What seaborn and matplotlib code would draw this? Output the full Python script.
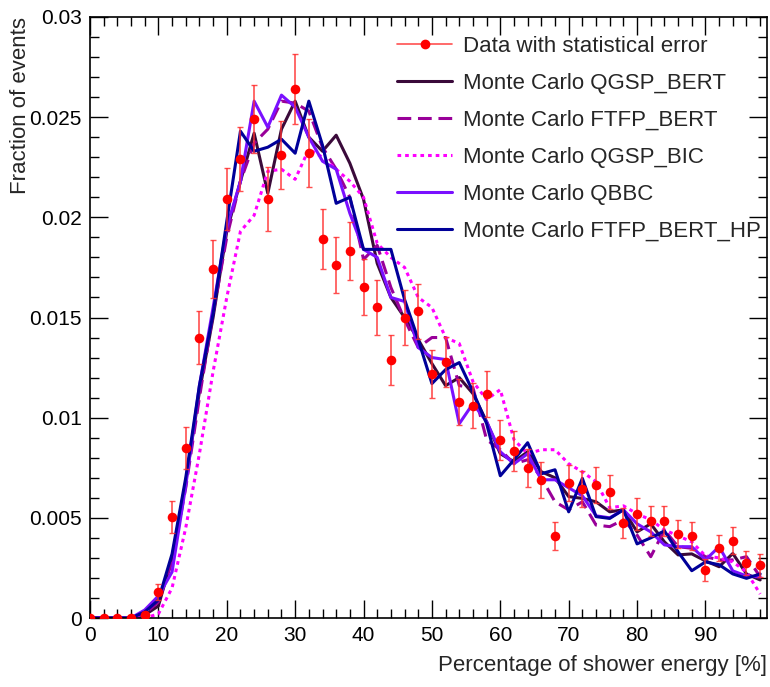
import numpy as np
import pandas as pd
import matplotlib
matplotlib.use("Agg")
import matplotlib.pyplot as plt
from matplotlib.lines import Line2D
from matplotlib.ticker import FixedLocator, MultipleLocator
import seaborn as sns

# ---------------- data (fraction of events, values in units of 1e-3) ----------------
energy = [0, 2, 4, 6, 8, 10, 12, 14, 16, 18, 20, 22, 24, 26, 28, 30, 32, 34, 36, 38,
          40, 42, 44, 46, 48, 50, 52, 54, 56, 58, 60, 62, 64, 66, 68, 70, 72, 74, 76, 78,
          80, 82, 84, 86, 88, 90, 92, 94, 96, 98]

data_vals = [0, 0, 0, 0, 0.15, 1.3, 5.05, 8.5, 14.0, 17.4, 20.9, 22.9, 24.9, 20.9, 23.1, 26.4, 23.2, 18.9, 17.6, 18.3,
             16.5, 15.5, 12.9, 15.0, 15.3, 12.2, 12.8, 10.8, 10.6, 11.2, 8.9, 8.35, 7.5, 6.9, 4.1, 6.76, 6.44, 6.64, 6.29, 4.73,
             5.19, 4.84, 4.84, 4.21, 4.11, 2.41, 3.49, 3.86, 2.75, 2.63]
data_errs = [0, 0, 0, 0, 0.15, 0.4, 0.8, 1.05, 1.3, 1.45, 1.55, 1.6, 1.7, 1.6, 1.7, 1.75, 1.7, 1.5, 1.4, 1.45,
             1.4, 1.35, 1.25, 1.35, 1.35, 1.2, 1.25, 1.15, 1.13, 1.15, 1.0, 1.0, 0.95, 0.9, 0.7, 0.9, 0.9, 0.9, 0.85, 0.75,
             0.78, 0.75, 0.75, 0.7, 0.7, 0.55, 0.65, 0.68, 0.58, 0.58]

qgsp_bert = [0, 0, 0, 0, 0.15, 0.6, 3.0, 6.8, 11.3, 15.0, 19.3, 21.8, 24.2, 21.2, 24.4, 25.8, 24.0, 23.3, 24.1, 22.7,
             20.9, 17.7, 16.0, 15.0, 13.9, 12.7, 11.6, 12.0, 11.2, 9.8, 8.2, 7.8, 8.3, 7.3, 7.0, 6.06, 5.97, 5.8, 5.3, 5.4,
             4.3, 4.7, 3.8, 3.15, 3.2, 2.85, 2.56, 3.22, 2.2, 1.9]
ftfp_bert = [0, 0, 0, 0, 0.2, 0.8, 2.8, 6.5, 11.0, 15.2, 19.0, 21.8, 23.7, 24.4, 25.8, 25.7, 25.3, 23.5, 22.4, 21.0,
             17.9, 18.6, 16.5, 14.9, 13.5, 14.0, 14.0, 11.6, 11.5, 8.9, 8.4, 7.7, 7.9, 7.0, 5.8, 5.4, 5.8, 4.64, 4.56, 4.9,
             4.14, 3.06, 4.39, 3.56, 3.48, 3.06, 2.9, 2.9, 3.06, 2.06]
qgsp_bic = [0, 0, 0, 0, 0, 0.2, 1.5, 4.5, 8.2, 12.3, 16.0, 19.3, 20.1, 22.3, 22.4, 21.9, 23.4, 23.0, 22.4, 21.8,
            21.0, 18.7, 18.0, 17.5, 16.0, 15.5, 14.0, 13.7, 11.8, 10.9, 11.4, 8.9, 8.2, 8.4, 8.4, 7.7, 7.3, 6.8, 5.5, 5.6,
            5.2, 4.9, 4.4, 4.1, 3.8, 3.1, 3.0, 2.8, 2.3, 1.2]
qbbc = [0, 0, 0, 0, 0.4, 1.1, 2.3, 6.6, 11.6, 15.5, 19.5, 21.8, 25.8, 24.5, 26.1, 25.5, 24.0, 22.8, 22.4, 20.2,
        18.4, 18.0, 16.0, 15.8, 13.5, 13.0, 12.9, 9.7, 10.7, 9.8, 8.3, 7.7, 8.2, 6.9, 6.9, 6.5, 6.1, 5.1, 5.0, 5.4,
        4.7, 4.3, 3.65, 3.56, 3.56, 2.9, 3.56, 2.35, 2.1, 2.05]
ftfp_bert_hp = [0, 0, 0, 0, 0.3, 0.9, 3.2, 7.0, 11.6, 15.2, 19.8, 24.3, 23.3, 23.5, 23.9, 23.2, 25.8, 23.6, 20.7, 21.0,
                18.4, 18.4, 18.4, 15.9, 13.9, 11.7, 12.4, 12.75, 11.3, 9.7, 7.1, 7.9, 8.75, 7.2, 7.4, 5.3, 6.97, 5.06, 4.97, 5.4,
                3.7, 4.0, 4.35, 3.3, 2.36, 2.8, 2.66, 2.2, 1.98, 2.2]

model_names = ["QGSP_BERT", "FTFP_BERT", "QGSP_BIC", "QBBC", "FTFP_BERT_HP"]
model_values = [qgsp_bert, ftfp_bert, qgsp_bic, qbbc, ftfp_bert_hp]
legend_labels = ["Data with statistical error", "Monte Carlo QGSP_BERT", "Monte Carlo FTFP_BERT",
                 "Monte Carlo QGSP_BIC", "Monte Carlo QBBC", "Monte Carlo FTFP_BERT_HP"]

ytick_vals = [0, 0.005, 0.01, 0.015, 0.02, 0.025, 0.03]
ytick_labels = ["0", "0.005", "0.01", "0.015", "0.02", "0.025", "0.03"]
xtick_vals = [0, 10, 20, 30, 40, 50, 60, 70, 80, 90]
xtick_labels = ["0", "10", "20", "30", "40", "50", "60", "70", "80", "90"]

# ---------------- style ----------------
sns.set_theme(style="white")
plt.rcParams["font.family"] = ["Liberation Sans", "DejaVu Sans"]

colors = {"QGSP_BERT": "#3a0a3a", "FTFP_BERT": "#990099", "QGSP_BIC": "#ff00ff",
          "QBBC": "#7a10ff", "FTFP_BERT_HP": "#000099"}
dashes = {"QGSP_BERT": "", "FTFP_BERT": (4.5, 2.2), "QGSP_BIC": (1.2, 1.3),
          "QBBC": "", "FTFP_BERT_HP": ""}

rows = []
for name, vals in zip(model_names, model_values):
    for e, v in zip(energy, vals):
        rows.append({"energy": e, "fraction": v * 1e-3, "model": name})
df = pd.DataFrame(rows)

fig = plt.figure(figsize=(7.7, 6.87), dpi=100)
ax = fig.add_axes([90 / 770, 1 - 618 / 687, 677 / 770, 601 / 687])

sns.lineplot(data=df, x="energy", y="fraction", hue="model", style="model",
             hue_order=model_names, style_order=model_names,
             palette=colors, dashes=dashes, estimator=None, sort=True,
             linewidth=2.2, legend=False, ax=ax)

dvals = np.array(data_vals) * 1e-3
derrs = np.array(data_errs) * 1e-3
ax.errorbar(energy, dvals, yerr=derrs, fmt="none", ecolor="#ff3030", elinewidth=1.2,
            capsize=2.5, capthick=1.0, alpha=0.85, zorder=5)
sns.scatterplot(x=energy, y=dvals, color="red", s=48, edgecolor="red", linewidth=0,
                zorder=6, ax=ax)

ax.set_xlim(0, 99)
ax.set_ylim(0, 0.03)
ax.xaxis.set_major_locator(FixedLocator(xtick_vals))
ax.set_xticklabels(xtick_labels)
ax.xaxis.set_minor_locator(MultipleLocator(2))
ax.yaxis.set_major_locator(FixedLocator(ytick_vals))
ax.set_yticklabels(ytick_labels)
ax.yaxis.set_minor_locator(MultipleLocator(0.001))

ax.tick_params(axis="both", which="both", direction="in", top=True, right=True,
               bottom=True, left=True, colors="black", labelsize=15)
ax.tick_params(axis="both", which="major", length=13, width=1.0)
ax.tick_params(axis="both", which="minor", length=6.5, width=1.0)
ax.tick_params(axis="y", which="major", pad=6)
ax.tick_params(axis="x", which="major", pad=6)
for s in ax.spines.values():
    s.set_color("black")
    s.set_linewidth(1.2)

ax.set_xlabel("Percentage of shower energy [%]", fontsize=16, loc="right")
ax.set_ylabel("Fraction of events", fontsize=16, loc="top")
ax.xaxis.set_label_coords(1.0, -0.062)
ax.yaxis.set_label_coords(-0.087, 1.0)

handles = [Line2D([0], [0], color="#ff5050", lw=1.2, marker="o", markersize=6,
                  markerfacecolor="red", markeredgecolor="red")]
for name in model_names:
    d = dashes[name]
    ls = "-" if d == "" else (0, d)
    handles.append(Line2D([0], [0], color=colors[name], lw=2.2, linestyle=ls))
ax.legend(handles, legend_labels, loc="upper left", bbox_to_anchor=(0.441, 0.983),
          frameon=False, fontsize=16, handlelength=2.45, handletextpad=0.5,
          labelspacing=0.72, borderaxespad=0, numpoints=1)

fig.savefig("out.png", dpi=100)
